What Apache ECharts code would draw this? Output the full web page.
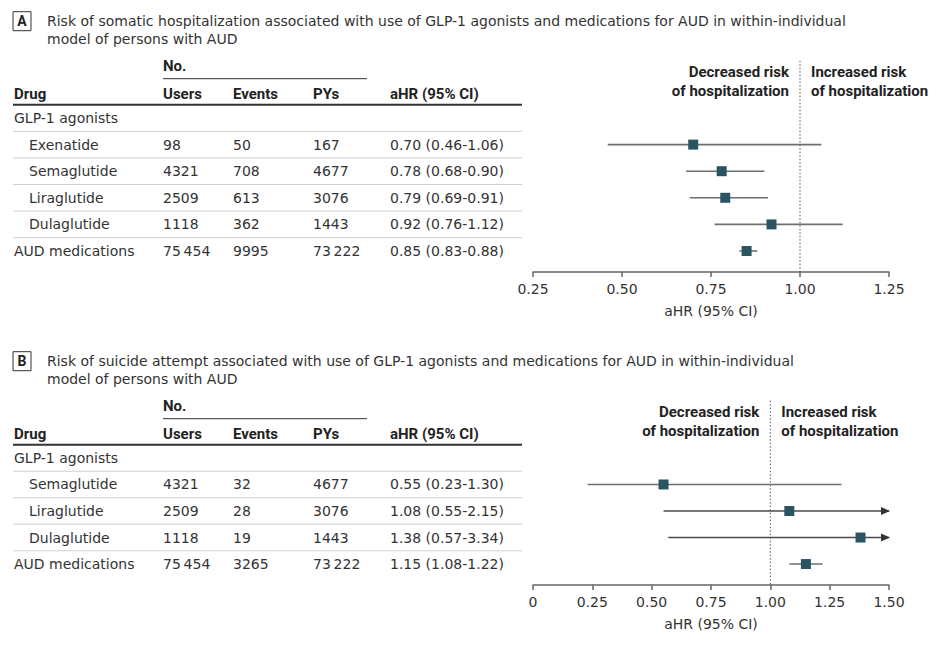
<!DOCTYPE html>
<html><head><meta charset="utf-8">
<script src="https://cdn.jsdelivr.net/npm/echarts@6/dist/echarts.min.js"></script>
<style>html,body{margin:0;padding:0;background:#fff}#c{width:934px;height:649px}</style>
</head><body><div id="c"></div>
<script>
// ---------- Data: panel A (somatic hospitalization) ----------
const titleA = ['Risk of somatic hospitalization associated with use of GLP-1 agonists and medications for AUD in within-individual', 'model of persons with AUD'];
const rowsA   = ['GLP-1 agonists', 'Exenatide', 'Semaglutide', 'Liraglutide', 'Dulaglutide', 'AUD medications'];
const usersA  = ['', '98', '4321', '2509', '1118', '75\u2009454'];
const eventsA = ['', '50', '708', '613', '362', '9995'];
const pysA    = ['', '167', '4677', '3076', '1443', '73\u2009222'];
const hrA     = [null, 0.70, 0.78, 0.79, 0.92, 0.85];
const loA     = [null, 0.46, 0.68, 0.69, 0.76, 0.83];
const hiA     = [null, 1.06, 0.90, 0.91, 1.12, 0.88];
const ticksA  = ['0.25', '0.50', '0.75', '1.00', '1.25'];

// ---------- Data: panel B (suicide attempt) ----------
const titleB = ['Risk of suicide attempt associated with use of GLP-1 agonists and medications for AUD in within-individual', 'model of persons with AUD'];
const rowsB   = ['GLP-1 agonists', 'Semaglutide', 'Liraglutide', 'Dulaglutide', 'AUD medications'];
const usersB  = ['', '4321', '2509', '1118', '75\u2009454'];
const eventsB = ['', '32', '28', '19', '3265'];
const pysB    = ['', '4677', '3076', '1443', '73\u2009222'];
const hrB     = [null, 0.55, 1.08, 1.38, 1.15];
const loB     = [null, 0.23, 0.55, 0.57, 1.08];
const hiB     = [null, 1.30, 2.15, 3.34, 1.22];
const ticksB  = ['0', '0.25', '0.50', '0.75', '1.00', '1.25', '1.50'];

const subRows = ['Exenatide', 'Semaglutide', 'Liraglutide', 'Dulaglutide']; // indented under GLP-1 agonists
const headers = ['Drug', 'Users', 'Events', 'PYs', 'aHR (95% CI)'];
const refValue = 1;
const sideLabels = [['Decreased risk', 'of hospitalization'], ['Increased risk', 'of hospitalization']];
const axisName = 'aHR (95% CI)';

// ---------- Layout / style ----------
const FONT = '"DejaVu Sans", sans-serif';
const BFONT = 'Roboto, sans-serif';
const FS = 14, BFS = 15;
const TXT = '#333333';
const MARK = '#2b5463';
const colX = { drug: 14, indent: 29, users: 163, events: 233, pys: 313, ci: 390 };
const tableLeft = 13, tableRight = 522;
const fmt = v => v.toFixed(2);

function ciText(hr, lo, hi, i) { return hr[i] == null ? '' : fmt(hr[i]) + ' (' + fmt(lo[i]) + '-' + fmt(hi[i]) + ')'; }

function tableRender(rows, users, events, pys, hr, lo, hi, xMin) {
  return function (params, api) {
    const i = api.value(1);
    const y = api.coord([xMin, i])[1];
    const yTop = api.coord([xMin, i - 0.5])[1];
    const name = rows[i];
    const t = (x, s) => ({ type: 'text', silent: true, style: { x: x, y: y, text: s, fill: TXT, fontSize: FS, fontFamily: FONT, align: 'left', verticalAlign: 'middle' } });
    const children = [
      t(subRows.indexOf(name) >= 0 ? colX.indent : colX.drug, name),
      t(colX.users, users[i]), t(colX.events, events[i]), t(colX.pys, pys[i]),
      t(colX.ci, ciText(hr, lo, hi, i))
    ];
    children.push({ type: 'line', silent: true, shape: { x1: tableLeft, y1: yTop, x2: tableRight, y2: yTop },
      style: i === 0 ? { stroke: '#333', lineWidth: 2 } : { stroke: '#cfcfcf', lineWidth: 1 } });
    return { type: 'group', children: children };
  };
}

function errRender(xMax) {
  return function (params, api) {
    const lo = api.value(0), hi = api.value(1), i = api.value(2);
    const p1 = api.coord([lo, i]);
    const p2 = api.coord([Math.min(hi, xMax), i]);
    const ch = [{ type: 'line', shape: { x1: p1[0], y1: p1[1], x2: p2[0], y2: p2[1] }, style: { stroke: '#6f6f6f', lineWidth: 1.6 } }];
    if (hi > xMax) {
      ch[0].style.stroke = '#4a4a4a';
      ch.push({ type: 'polygon', shape: { points: [[p2[0] + 1, p2[1]], [p2[0] - 8, p2[1] - 4], [p2[0] - 8, p2[1] + 4]] }, style: { fill: '#333' } });
    }
    return { type: 'group', children: ch };
  };
}

function refRender(yMin, yMax) {
  return function (params, api) {
    const x = api.value(0);
    const top = api.coord([x, yMin])[1];
    const bot = api.coord([x, yMax])[1];
    const px = api.coord([x, yMin])[0];
    const lab = (s, xx, yy, al) => ({ type: 'text', silent: true, style: { x: xx, y: yy, text: s, fill: '#222', fontSize: BFS, fontWeight: 'bold', fontFamily: BFONT, align: al, verticalAlign: 'middle' } });
    return { type: 'group', children: [
      { type: 'line', shape: { x1: px, y1: top - 44, x2: px, y2: bot }, style: { stroke: '#555', lineWidth: 1, lineDash: [1.5, 2] } },
      lab(sideLabels[0][0], px - 11, top - 33, 'right'), lab(sideLabels[0][1], px - 11, top - 14, 'right'),
      lab(sideLabels[1][0], px + 11, top - 33, 'left'), lab(sideLabels[1][1], px + 11, top - 14, 'left')
    ] };
  };
}

function panelGraphics(title, letter, y0) {
  // y0 = vertical position of the header thick line
  const g = [];
  g.push({ type: 'rect', shape: { x: 13, y: y0 - 93, width: 18, height: 19 }, style: { fill: '#fff', stroke: '#333', lineWidth: 1 } });
  g.push({ type: 'text', style: { x: 22, y: y0 - 83.5, text: letter, fill: '#222', fontSize: 14, fontWeight: 'bold', fontFamily: BFONT, align: 'center', verticalAlign: 'middle' } });
  g.push({ type: 'text', style: { x: 47, y: y0 - 84, text: title[0], fill: TXT, fontSize: FS, fontFamily: FONT, align: 'left', verticalAlign: 'middle' } });
  g.push({ type: 'text', style: { x: 47, y: y0 - 66, text: title[1], fill: TXT, fontSize: FS, fontFamily: FONT, align: 'left', verticalAlign: 'middle' } });
  g.push({ type: 'text', style: { x: colX.users, y: y0 - 39, text: 'No.', fill: '#222', fontSize: BFS, fontWeight: 'bold', fontFamily: BFONT, align: 'left', verticalAlign: 'middle' } });
  g.push({ type: 'line', shape: { x1: colX.users, y1: y0 - 26, x2: 367, y2: y0 - 26 }, style: { stroke: '#333', lineWidth: 1 } });
  const hx = [colX.drug, colX.users, colX.events, colX.pys, colX.ci];
  headers.forEach((h, k) => g.push({ type: 'text', style: { x: hx[k], y: y0 - 11, text: h, fill: '#222', fontSize: BFS, fontWeight: 'bold', fontFamily: BFONT, align: 'left', verticalAlign: 'middle' } }));
  return g;
}

const yMaxA = rowsA.length - 0.21, yMaxB = rowsB.length - 0.21;
const minA = parseFloat(ticksA[0]), maxA = parseFloat(ticksA[ticksA.length - 1]);
const minB = parseFloat(ticksB[0]), maxB = parseFloat(ticksB[ticksB.length - 1]);

function xAxisCfg(idx, mn, mx, ticks) {
  return {
    gridIndex: idx, type: 'value', position: 'bottom', min: mn, max: mx, interval: 0.25,
    name: axisName, nameLocation: 'middle', nameGap: 32,
    nameTextStyle: { color: TXT, fontSize: FS, fontFamily: FONT },
    axisLine: { show: true, onZero: false, lineStyle: { color: '#666', width: 1.5 } },
    axisTick: { show: true, inside: false, length: 5, lineStyle: { color: '#666', width: 1.5 } },
    axisLabel: { color: TXT, fontSize: FS, fontFamily: FONT, margin: 10,
      formatter: v => ticks[Math.round((v - mn) / 0.25)] },
    splitLine: { show: false }
  };
}
function yAxisCfg(idx, yMax) {
  return { gridIndex: idx, type: 'value', inverse: true, min: -0.5, max: yMax, show: false, splitLine: { show: false } };
}

const idxA = rowsA.map((r, i) => i), idxB = rowsB.map((r, i) => i);

const option = {
  animation: false,
  backgroundColor: '#fff',
  grid: [
    { left: 533, width: 356, top: 104.7, height: 167.3 },
    { left: 533, width: 356, top: 444.7, height: 140.3 }
  ],
  xAxis: [xAxisCfg(0, minA, maxA, ticksA), xAxisCfg(1, minB, maxB, ticksB)],
  yAxis: [yAxisCfg(0, yMaxA), yAxisCfg(1, yMaxB)],
  graphic: { elements: panelGraphics(titleA, 'A', 104.7).concat(panelGraphics(titleB, 'B', 444.7)) },
  series: [
    { type: 'custom', xAxisIndex: 0, yAxisIndex: 0, clip: false, silent: true,
      renderItem: tableRender(rowsA, usersA, eventsA, pysA, hrA, loA, hiA, minA),
      data: idxA.map(i => [minA, i]) },
    { type: 'custom', xAxisIndex: 0, yAxisIndex: 0, clip: false, silent: true,
      renderItem: refRender(-0.5, yMaxA), data: [[refValue, 0]] },
    { type: 'custom', xAxisIndex: 0, yAxisIndex: 0, clip: false, silent: true,
      renderItem: errRender(maxA), encode: { x: [0, 1], y: 2 },
      data: idxA.filter(i => hrA[i] != null).map(i => [loA[i], hiA[i], i]) },
    { type: 'scatter', xAxisIndex: 0, yAxisIndex: 0, symbol: 'rect', symbolSize: 10, silent: true,
      itemStyle: { color: MARK, opacity: 1 },
      data: idxA.filter(i => hrA[i] != null).map(i => [hrA[i], i]) },

    { type: 'custom', xAxisIndex: 1, yAxisIndex: 1, clip: false, silent: true,
      renderItem: tableRender(rowsB, usersB, eventsB, pysB, hrB, loB, hiB, minB),
      data: idxB.map(i => [minB, i]) },
    { type: 'custom', xAxisIndex: 1, yAxisIndex: 1, clip: false, silent: true,
      renderItem: refRender(-0.5, yMaxB), data: [[refValue, 0]] },
    { type: 'custom', xAxisIndex: 1, yAxisIndex: 1, clip: false, silent: true,
      renderItem: errRender(maxB), encode: { x: [0, 1], y: 2 },
      data: idxB.filter(i => hrB[i] != null).map(i => [loB[i], hiB[i], i]) },
    { type: 'scatter', xAxisIndex: 1, yAxisIndex: 1, symbol: 'rect', symbolSize: 10, silent: true,
      itemStyle: { color: MARK, opacity: 1 },
      data: idxB.filter(i => hrB[i] != null).map(i => [hrB[i], i]) }
  ]
};

const chart = echarts.init(document.getElementById('c'), null, { renderer: 'svg', width: 934, height: 649 });
chart.setOption(option);
</script>
</body></html>
